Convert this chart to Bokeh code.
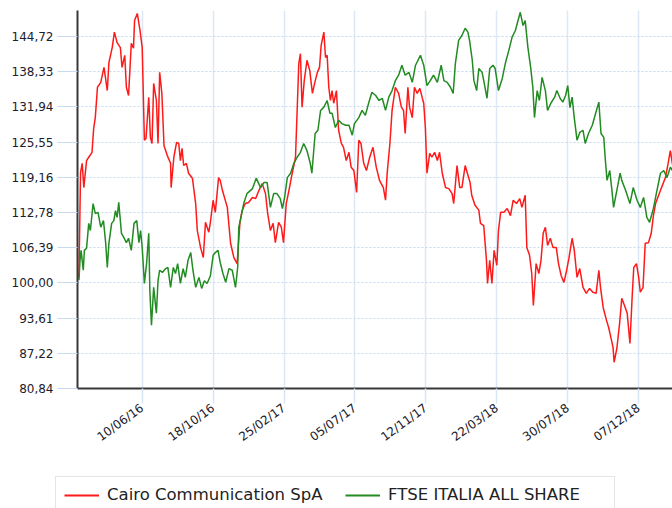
import math
import pandas as pd
from bokeh.plotting import figure
from bokeh.models import FixedTicker, Legend, LegendItem, Range1d, ColumnDataSource
from bokeh.embed import file_html
from bokeh.resources import INLINE

# ---------------- data ----------------
START_DATE = "2016-02-15"   # day 0 of the day offsets below

series_names = ["Cairo Communication SpA", "FTSE ITALIA ALL SHARE"]
series_colors = ["#ff1a1a", "#228b22"]

cairo_days = [
    0, 3, 6, 9, 14, 18, 24, 27, 30, 34,
    40, 46, 52, 55, 61, 65, 70, 76, 79, 84,
    87, 91, 96, 100, 102, 107, 112, 116, 120, 123,
    128, 131, 134, 137, 142, 145, 148, 152, 156, 162,
    168, 169, 174, 179, 183, 186, 189, 192, 197, 201,
    208, 214, 217, 223, 228, 232, 238, 241, 246, 250,
    256, 259, 263, 272, 278, 284, 290, 295, 299, 305,
    311, 318, 324, 330, 336, 342, 346, 351, 356, 360,
    366, 371, 375, 380, 385, 391, 397, 400, 403, 406,
    409, 413, 418, 423, 428, 432, 437, 441, 444, 449,
    452, 455, 458, 461, 464, 467, 472, 476, 481, 485,
    490, 495, 499, 504, 509, 513, 517, 522, 527, 533,
    539, 545, 551, 558, 562, 565, 570, 574, 580, 586,
    591, 595, 598, 603, 606, 611, 615, 620, 625, 629,
    632, 635, 638, 643, 647, 652, 657, 661, 666, 672,
    678, 684, 687, 693, 698, 702, 708, 712, 717, 720,
    726, 733, 736, 742, 747, 749, 753, 757, 761, 766,
    769, 773, 779, 785, 791, 796, 802, 808, 812, 818,
    821, 826, 830, 833, 838, 843, 847, 851, 855, 859,
    864, 869, 875, 879, 884, 889, 894, 898, 904, 908,
    913, 918, 924, 930, 936, 942, 948, 953, 956, 961,
    967, 971, 975, 979, 981, 986, 991, 995, 1000, 1005,
    1010, 1014, 1017, 1022, 1026, 1029, 1034, 1038, 1044, 1049,
    1053, 1057, 1066, 1075, 1080, 1084, 1088,
]
cairo_vals = [
    101.0, 120.0, 121.7, 117.3, 122.2, 122.8, 123.7, 128.0, 130.0, 135.5,
    136.4, 139.1, 134.9, 140.0, 142.7, 145.5, 143.6, 142.7, 139.1, 141.3,
    135.5, 134.0, 143.5, 142.6, 147.6, 148.9, 145.8, 142.7, 125.9, 126.2,
    133.7, 126.4, 125.3, 136.2, 133.1, 125.3, 138.2, 134.4, 124.9, 123.1,
    121.7, 117.3, 122.8, 125.5, 125.3, 122.2, 124.4, 121.3, 121.7, 119.9,
    119.0, 114.4, 109.5, 106.4, 104.6, 111.0, 109.2, 111.0, 115.0, 112.8,
    119.1, 118.6, 116.8, 113.7, 107.2, 104.6, 103.5, 110.8, 113.1, 114.4,
    114.6, 115.5, 115.3, 116.8, 118.0, 116.2, 112.6, 109.5, 110.8, 107.3,
    111.0, 110.1, 107.3, 114.4, 116.8, 119.9, 122.8, 131.3, 139.8, 141.6,
    131.9, 136.7, 140.4, 138.6, 134.4, 136.2, 138.2, 139.1, 143.1, 145.5,
    140.9, 141.3, 135.5, 133.1, 134.9, 132.6, 134.9, 127.7, 125.3, 124.6,
    122.2, 123.7, 121.0, 120.4, 116.4, 125.9, 125.3, 121.7, 120.4, 122.8,
    124.6, 121.0, 118.6, 117.3, 115.0, 119.9, 125.3, 131.3, 135.5, 134.4,
    131.9, 131.3, 127.1, 135.5, 131.9, 130.0, 135.5, 134.4, 135.3, 133.7,
    132.6, 128.2, 119.9, 123.5, 122.8, 123.7, 122.2, 123.7, 119.9, 117.3,
    117.1, 116.2, 114.4, 121.3, 117.3, 117.3, 121.3, 119.9, 118.2, 115.9,
    114.1, 113.2, 110.8, 110.4, 104.1, 99.9, 104.1, 99.9, 105.9, 103.2,
    109.5, 112.8, 112.8, 113.5, 112.2, 115.0, 114.4, 115.3, 113.7, 115.9,
    106.4, 105.0, 101.7, 95.9, 103.5, 101.7, 104.1, 109.0, 110.1, 106.8,
    108.1, 106.4, 106.4, 103.5, 101.3, 100.1, 102.3, 104.4, 108.1, 105.9,
    101.0, 102.6, 99.2, 98.1, 99.0, 98.3, 98.1, 102.3, 99.2, 95.5,
    93.2, 91.9, 90.1, 88.3, 85.6, 88.1, 92.6, 97.2, 95.9, 94.5,
    89.0, 97.4, 102.8, 103.5, 101.0, 98.3, 99.2, 107.2, 107.3, 109.0,
    112.2, 114.4, 116.8, 119.1, 121.7, 124.0, 121.5,
]

ftse_days = [
    0, 2, 4, 8, 10, 14, 18, 21, 26, 30,
    35, 40, 45, 49, 52, 55, 60, 64, 67, 70,
    73, 78, 82, 87, 91, 96, 101, 106, 110, 113,
    116, 120, 124, 128, 130, 133, 137, 142, 145, 148,
    153, 159, 163, 168, 173, 177, 181, 186, 191, 195,
    200, 205, 209, 214, 220, 225, 230, 235, 241, 246,
    250, 255, 259, 264, 269, 275, 281, 287, 291, 293,
    297, 302, 308, 318, 325, 333, 339, 345, 351, 357,
    363, 369, 373, 377, 382, 388, 394, 400, 406, 412,
    418, 424, 427, 433, 438, 443, 449, 455, 460, 464,
    470, 476, 482, 489, 495, 501, 505, 513, 519, 525,
    531, 537, 544, 550, 556, 562, 568, 574, 580, 586,
    592, 598, 605, 611, 617, 626, 632, 638, 644, 650,
    657, 664, 669, 675, 681, 686, 690, 696, 702, 708,
    713, 716, 721, 724, 729, 733, 739, 743, 748, 753,
    759, 763, 769, 776, 782, 788, 794, 800, 804, 809,
    814, 818, 823, 828, 832, 835, 840, 844, 849, 855,
    859, 865, 872, 876, 882, 887, 892, 896, 900, 904,
    908, 913, 918, 924, 928, 934, 941, 945, 950, 953,
    957, 962, 965, 968, 973, 977, 980, 986, 992, 995,
    1002, 1010, 1016, 1023, 1029, 1035, 1041, 1046, 1053, 1060,
    1066, 1072, 1078, 1084, 1088,
]
ftse_vals = [
    100.5, 104.1, 105.9, 102.3, 105.9, 106.3, 110.8, 109.5, 114.4, 112.6,
    112.8, 110.1, 111.3, 107.3, 102.8, 107.2, 110.8, 111.3, 113.1, 111.9,
    114.6, 109.0, 108.3, 107.3, 108.1, 105.9, 110.8, 111.3, 107.3, 109.5,
    106.4, 99.9, 103.5, 109.0, 98.6, 92.3, 99.2, 94.5, 100.4, 102.3,
    101.9, 102.6, 102.8, 99.2, 102.8, 101.7, 103.5, 99.9, 102.6, 101.0,
    104.1, 105.5, 102.3, 99.2, 101.0, 99.0, 100.4, 99.9, 101.3, 105.0,
    105.5, 105.9, 103.7, 101.7, 100.1, 102.6, 102.3, 99.2, 102.8, 110.1,
    111.9, 114.4, 116.2, 117.1, 119.0, 117.3, 118.2, 118.2, 113.7, 116.2,
    116.2, 115.3, 113.5, 115.5, 119.1, 119.9, 121.7, 122.8, 123.7, 125.3,
    124.0, 121.7, 119.9, 127.1, 127.7, 131.3, 131.9, 133.1, 130.8, 130.8,
    128.2, 129.5, 128.9, 128.6, 128.6, 126.8, 128.9, 130.0, 131.3, 130.4,
    132.6, 134.6, 134.0, 133.1, 133.5, 131.3, 133.7, 134.9, 136.7, 137.7,
    139.5, 137.7, 138.2, 136.4, 139.5, 141.3, 139.5, 135.8, 136.7, 137.7,
    136.4, 139.5, 136.7, 136.4, 135.5, 134.4, 139.8, 144.0, 144.9, 146.2,
    145.5, 144.0, 140.4, 136.7, 134.9, 138.9, 138.2, 136.2, 133.5, 138.9,
    139.5, 138.9, 134.9, 137.1, 140.0, 142.2, 144.6, 145.8, 147.3, 149.1,
    146.7, 147.6, 142.7, 139.1, 135.5, 130.0, 134.9, 133.1, 137.3, 134.9,
    131.3, 132.6, 133.7, 134.9, 133.5, 132.8, 134.0, 135.8, 131.8, 133.7,
    129.9, 125.9, 127.3, 127.7, 125.3, 127.1, 128.6, 130.0, 131.8, 132.8,
    127.1, 126.4, 122.2, 118.6, 120.4, 116.8, 113.7, 116.8, 119.9, 118.6,
    116.8, 114.4, 117.3, 115.0, 113.7, 115.5, 111.9, 111.0, 113.5, 117.0,
    119.9, 120.4, 119.1, 121.0, 120.4,
]

x_tick_dates = ["2016-06-10", "2016-10-18", "2017-02-25", "2017-07-05",
                "2017-11-12", "2018-03-22", "2018-07-30", "2018-12-07"]
y_ticks = [80.836, 87.224, 93.612, 100.0, 106.388, 112.776,
           119.164, 125.552, 131.94, 138.328, 144.716]
y_tick_labels = ["80,84", "87,22", "93,61", "100,00", "106,39", "112,78",
                 "119,16", "125,55", "131,94", "138,33", "144,72"]

# ---------------- build ----------------
start = pd.Timestamp(START_DATE)
def to_dates(days):
    return [start + pd.Timedelta(days=d) for d in days]

n_c = min(len(cairo_days), len(cairo_vals))
n_f = min(len(ftse_days), len(ftse_vals))
src_c = ColumnDataSource(dict(x=to_dates(cairo_days[:n_c]), y=cairo_vals[:n_c]))
src_f = ColumnDataSource(dict(x=to_dates(ftse_days[:n_f]), y=ftse_vals[:n_f]))

x_start = start + pd.Timedelta(days=-2.6)
x_end = start + pd.Timedelta(days=1088)

p = figure(width=672, height=470, x_axis_type="datetime",
           output_backend="svg", toolbar_location=None,
           x_range=Range1d(x_start, x_end), y_range=Range1d(80.836, 149.43),
           min_border_left=77, min_border_right=0, min_border_top=10,
           min_border_bottom=82)
p.outline_line_color = None
p.background_fill_color = "white"
p.border_fill_color = "white"

r_c = p.line("x", "y", source=src_c, line_color=series_colors[0], line_width=1.5)
r_f = p.line("x", "y", source=src_f, line_color=series_colors[1], line_width=1.5)

x_tick_ms = [pd.Timestamp(d).value // 10**6 for d in x_tick_dates]
x_tick_labels = [pd.Timestamp(d).strftime("%d/%m/%y") for d in x_tick_dates]

xa = p.xaxis[0]
xa.ticker = FixedTicker(ticks=x_tick_ms)
xa.major_label_overrides = {t: l for t, l in zip(x_tick_ms, x_tick_labels)}
xa.major_label_orientation = math.radians(36)
xa.major_tick_out = 15
xa.major_tick_in = 0
xa.major_tick_line_color = "#d8e5f5"
xa.major_tick_line_width = 1.5
xa.major_label_standoff = 3

ya = p.yaxis[0]
ya.ticker = FixedTicker(ticks=y_ticks)
ya.major_label_overrides = {t: l for t, l in zip(y_ticks, y_tick_labels)}
ya.major_tick_out = 20
ya.major_tick_in = 0
ya.major_tick_line_color = "#c9dbf0"
ya.major_label_standoff = 4

for ax in (xa, ya):
    ax.axis_line_color = "#383838"
    ax.axis_line_width = 2
    ax.minor_tick_line_color = None
    ax.major_label_text_font = "DejaVu Sans"
    ax.major_label_text_font_size = "12px"
    ax.major_label_text_color = "#1c1c2c"

p.xgrid.grid_line_color = "#dce8f6"
p.xgrid.grid_line_width = 1.5
p.ygrid.grid_line_color = "#c4d7ee"
p.ygrid.grid_line_dash = "2 2"
p.ygrid.grid_line_width = 1

# ---------------- legend strip below the chart ----------------
# Same series, drawn far outside this strip's y range, so only the legend shows.
lg = figure(width=672, height=38, output_backend="svg", toolbar_location=None,
            x_axis_type="datetime",
            x_range=Range1d(x_start, x_end), y_range=Range1d(0, 1),
            x_axis_location=None, y_axis_location=None,
            min_border_left=0, min_border_right=0, min_border_top=0,
            min_border_bottom=0)
lg.outline_line_color = None
lg.grid.visible = False
lg.border_fill_color = "white"
lg.background_fill_color = "white"
lk_c = lg.line("x", "y", source=src_c, line_color=series_colors[0], line_width=2)
lk_f = lg.line("x", "y", source=src_f, line_color=series_colors[1], line_width=2)

legend = Legend(
    items=[LegendItem(label=series_names[0], renderers=[lk_c]),
           LegendItem(label=series_names[1], renderers=[lk_f])],
    orientation="horizontal", location=(55, -5), margin=0,
    label_text_font="DejaVu Sans", label_text_font_size="16.5px",
    label_text_color="#222222",
    glyph_width=35, glyph_height=18, label_height=18, label_width=218,
    label_standoff=8, spacing=20, padding=8,
    border_line_color="#cccccc", border_line_width=1,
    background_fill_color="white", background_fill_alpha=1.0,
)
lg.add_layout(legend)

open("out.html", "w").write(file_html([p, lg], INLINE))
